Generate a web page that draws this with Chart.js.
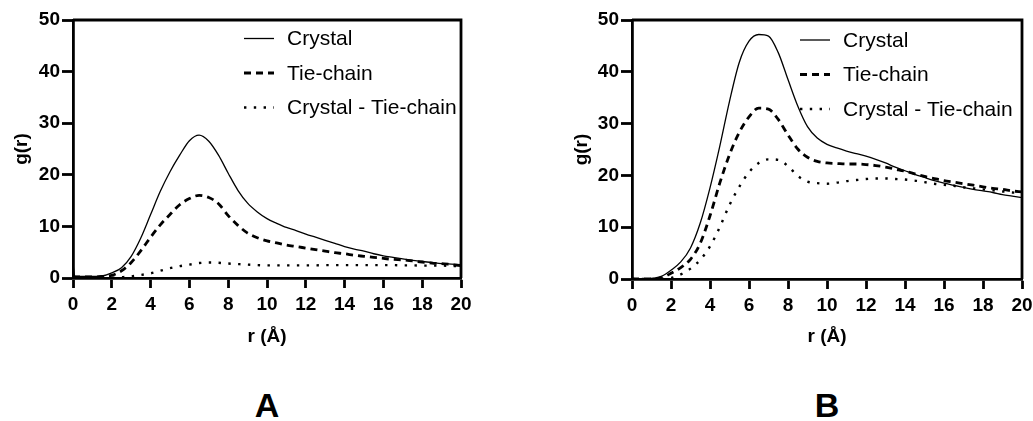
<!DOCTYPE html>
<html>
<head>
<meta charset="utf-8">
<script src="https://cdn.jsdelivr.net/npm/chart.js@4.4.1/dist/chart.umd.min.js"></script>
<style>
  html, body { margin: 0; padding: 0; background: #fff; }
  body { width: 1033px; height: 421px; position: relative; overflow: hidden;
         font-family: "Liberation Sans", Arial, sans-serif; }
  .panel { position: absolute; top: 0; height: 350px; }
  .tag { position: absolute; top: 384px; width: 80px; margin-left: -40px; text-align: center;
         font-weight: bold; font-size: 34px; line-height: 42px; color: #000; }
</style>
</head>
<body>
<div class="panel" id="wrapA" style="left:0;width:480px;"><canvas id="chartA"></canvas></div>
<div class="panel" id="wrapB" style="left:560px;width:473px;"><canvas id="chartB"></canvas></div>
<div class="tag" style="left:267px;">A</div>
<div class="tag" style="left:827px;">B</div>

<script>
// Distance grid r (Å)
const rValues = [0, 0.1, 0.5, 1, 1.5, 2, 2.5, 3, 3.5, 4, 4.5, 5, 5.5, 6, 6.5, 7, 7.5, 8, 8.5, 9, 9.5,
                 10, 10.5, 11, 11.5, 12, 12.5, 13, 13.5, 14, 14.5, 15, 15.5, 16, 16.5, 17, 17.5,
                 18, 18.5, 19, 19.5, 20];

// Panel A: g(r)
const crystalA = [2.7, 0.3, 0.3, 0.3, 0.4, 1.0, 2.0, 4.2, 7.8, 12.3, 16.8, 20.6, 23.8, 26.6, 27.7,
                  26.5, 23.8, 20.3, 17.0, 14.5, 12.8, 11.5, 10.6, 9.8, 9.2, 8.5, 7.9, 7.3, 6.7, 6.1,
                  5.6, 5.2, 4.7, 4.3, 4.0, 3.7, 3.4, 3.2, 3.0, 2.8, 2.7, 2.6];
const tieChainA = [0.2, 0.2, 0.2, 0.2, 0.3, 0.5, 1.4, 3.0, 5.3, 7.9, 10.3, 12.3, 14.2, 15.4, 16.0,
                   15.6, 14.4, 12.1, 10.2, 8.7, 7.8, 7.2, 6.8, 6.4, 6.1, 5.8, 5.5, 5.2, 4.9, 4.7,
                   4.4, 4.2, 4.0, 3.8, 3.6, 3.5, 3.3, 3.1, 2.9, 2.8, 2.6, 2.4];
const diffA = [0, 0, 0, 0, 0, 0.05, 0.15, 0.3, 0.6, 0.9, 1.4, 1.9, 2.3, 2.6, 2.9, 3.0, 2.95, 2.8,
               2.7, 2.6, 2.5, 2.45, 2.45, 2.45, 2.45, 2.45, 2.45, 2.5, 2.5, 2.5, 2.5, 2.5, 2.5,
               2.5, 2.5, 2.45, 2.45, 2.4, 2.4, 2.4, 2.35, 2.3];

// Panel B: g(r)
const crystalB = [0, 0, 0, 0.1, 0.5, 1.7, 3.3, 6.0, 10.8, 17.6, 25.6, 34.3, 41.8, 45.9, 47.2, 46.9,
                  43.7, 38.5, 33.4, 29.4, 27.2, 26.0, 25.3, 24.7, 24.2, 23.7, 23.1, 22.4, 21.6,
                  20.9, 20.2, 19.6, 19.0, 18.5, 18.1, 17.7, 17.3, 17.0, 16.7, 16.3, 16.0, 15.7];
const tieChainB = [0, 0, 0, 0, 0.2, 1.1, 2.2, 3.8, 6.9, 12.2, 18.5, 24.0, 28.3, 31.3, 33.0, 32.8,
                   30.8, 27.8, 25.1, 23.5, 22.7, 22.4, 22.3, 22.2, 22.2, 22.1, 21.9, 21.6, 21.2,
                   20.8, 20.3, 19.8, 19.4, 19.0, 18.7, 18.4, 18.1, 17.8, 17.5, 17.3, 17.0, 16.8];
const diffB = [0, 0, 0, 0, 0, 0.2, 0.9, 2.0, 3.7, 6.3, 10.0, 14.3, 17.8, 20.6, 22.4, 23.1, 23.0,
               21.8, 19.9, 18.8, 18.5, 18.4, 18.6, 18.9, 19.1, 19.3, 19.4, 19.4, 19.3, 19.2, 19.0,
               18.7, 18.4, 18.2, 18.0, 17.7, 17.5, 17.3, 17.1, 16.9, 16.7, 16.6];

const seriesNames = ['Crystal', 'Tie-chain', 'Crystal - Tie-chain'];
const xTicks = [0, 2, 4, 6, 8, 10, 12, 14, 16, 18, 20];
const yTicks = [0, 10, 20, 30, 40, 50];

const FONT = '"Liberation Sans", Arial, sans-serif';
const lineStyles = [
  { borderWidth: 1.3, borderDash: [] },
  { borderWidth: 2.8, borderDash: [7, 5] },
  { borderWidth: 2.4, borderDash: [2.4, 7.4] }
];

function toPoints(ys) { return rValues.map((r, i) => ({ x: r, y: ys[i] })); }

// Box around the plotting area (top and right edges; left/bottom come from the axes)
const framePlugin = {
  id: 'frame',
  afterDraw(chart) {
    const { ctx, chartArea: a } = chart;
    ctx.save();
    ctx.strokeStyle = '#000';
    ctx.lineWidth = 2.8;
    ctx.beginPath();
    ctx.moveTo(a.left, a.top);
    ctx.lineTo(a.right, a.top);
    ctx.lineTo(a.right, a.bottom);
    ctx.stroke();
    ctx.restore();
  }
};

// Key drawn inside the plotting area, upper right
const keyPlugin = {
  id: 'key',
  afterDatasetsDraw(chart, args, opts) {
    const { ctx, chartArea: a } = chart;
    ctx.save();
    chart.data.datasets.forEach((ds, i) => {
      const y = a.top + opts.top + i * opts.step;
      const x0 = a.left + opts.left;
      ctx.strokeStyle = '#000';
      ctx.lineWidth = ds.borderWidth;
      ctx.setLineDash(ds.borderDash || []);
      ctx.lineCap = 'butt';
      ctx.beginPath();
      ctx.moveTo(x0, y);
      ctx.lineTo(x0 + 30, y);
      ctx.stroke();
      ctx.setLineDash([]);
      ctx.fillStyle = '#000';
      ctx.font = '21px ' + FONT;
      ctx.textBaseline = 'middle';
      ctx.textAlign = 'left';
      ctx.fillText(ds.label, x0 + 43, y + 1);
    });
    ctx.restore();
  }
};

function makeChart(canvasId, sets, geom) {
  const datasets = sets.map((ys, i) => ({
    label: seriesNames[i],
    data: toPoints(ys),
    borderColor: '#000',
    backgroundColor: '#000',
    borderWidth: lineStyles[i].borderWidth,
    borderDash: lineStyles[i].borderDash,
    borderCapStyle: 'butt',
    pointRadius: 0,
    fill: false,
    cubicInterpolationMode: 'monotone'
  }));
  return new Chart(document.getElementById(canvasId), {
    type: 'line',
    data: { datasets },
    plugins: [framePlugin, keyPlugin],
    options: {
      responsive: true,
      maintainAspectRatio: false,
      animation: false,
      events: [],
      layout: { padding: { top: geom.top, right: geom.right, left: 0, bottom: 0 } },
      plugins: {
        legend: { display: false },
        tooltip: { enabled: false },
        key: { left: geom.keyLeft, top: geom.keyTop, step: 34.5 }
      },
      scales: {
        x: {
          type: 'linear',
          min: 0, max: 20,
          afterBuildTicks: s => { s.ticks = xTicks.map(v => ({ value: v })); },
          // end labels may run past the plot edges without shrinking the plot
          afterFit: s => { s.height = geom.xHeight; s.paddingLeft = 0; s.paddingRight = 0; },
          border: { display: true, width: 2.8, color: '#000' },
          grid: { drawOnChartArea: false, drawTicks: true, tickLength: 10, tickWidth: 2.8, tickColor: '#000' },
          ticks: { color: '#000', padding: 5, maxRotation: 0, autoSkip: false,
                   font: { family: FONT, size: 19, weight: 'bold' } },
          title: { display: true, text: 'r (Å)', color: '#000', padding: { top: 0, bottom: 2 },
                   font: { family: FONT, size: 19, weight: 'bold' } }
        },
        y: {
          min: 0, max: 50,
          afterBuildTicks: s => { s.ticks = yTicks.map(v => ({ value: v })); },
          afterFit: s => { s.width = geom.yWidth; },
          border: { display: true, width: 2.8, color: '#000' },
          grid: { drawOnChartArea: false, drawTicks: true, tickLength: 11, tickWidth: 2.8, tickColor: '#000' },
          ticks: { color: '#000', padding: 2,
                   font: { family: FONT, size: 19, weight: 'bold' } },
          title: { display: true, text: 'g(r)', color: '#000', padding: { top: 10, bottom: 0 },
                   font: { family: FONT, size: 19, weight: 'bold' } }
        }
      }
    }
  });
}

makeChart('chartA', [crystalA, tieChainA, diffA],
          { top: 20, right: 19, xHeight: 72, yWidth: 73, keyLeft: 171, keyTop: 18.5 });
makeChart('chartB', [crystalB, tieChainB, diffB],
          { top: 20, right: 11, xHeight: 71, yWidth: 72, keyLeft: 168, keyTop: 20 });
</script>
</body>
</html>
